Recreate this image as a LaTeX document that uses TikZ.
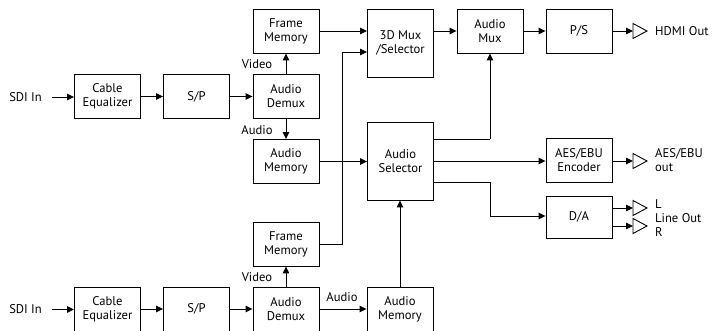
\documentclass[tikz,border=0pt]{standalone}
\usepackage{fontspec}
\setmainfont{PT Sans}
\usetikzlibrary{arrows.meta,positioning}
\begin{document}
\begin{tikzpicture}[x=1pt,y=-1pt,
  every node/.style={font=\fontsize{12.6}{14}\selectfont},
  blk/.style={draw, line width=0.9pt, minimum width=66pt, minimum height=44pt, align=center, inner sep=1pt},
  arr/.style={line width=0.9pt, -{Triangle[length=7pt,width=6.5pt]}},
  ln/.style={line width=0.9pt},
  lbl/.style={inner sep=0pt, align=left},
  buf/.style={line width=0.9pt}]
\useasboundingbox (0,0) rectangle (713,331);
% top chain
\node[lbl, anchor=east] (sdi1) at (42,97) {SDI In};
\node[blk] (ce1) at (107.5,96.5) {Cable\\Equalizer};
\node[blk] (sp1) at (196.5,96.5) {S/P};
\node[blk] (ad1) at (286,96.5) {Audio\\Demux};
\node[blk] (fm1) at (286,31) {Frame\\Memory};
\node[blk] (am1) at (286,161.5) {Audio\\Memory};
\node[blk, minimum height=68pt] (mux) at (400.5,43) {3D Mux\\/Selector};
\node[blk] (amux) at (490,31) {Audio\\Mux};
\node[blk] (ps) at (579,31) {P/S};
\node[blk, minimum height=78pt] (sel) at (400.5,161) {Audio\\Selector};
\node[blk] (aes) at (579,160) {AES/EBU\\Encoder};
\node[blk, minimum height=42pt] (da) at (579,217) {D/A};
% bottom chain
\node[blk] (fm2) at (286,244) {Frame\\Memory};
\node[lbl, anchor=east] (sdi2) at (42,309.5) {SDI In};
\node[blk] (ce2) at (107.5,309) {Cable\\Equalizer};
\node[blk] (sp2) at (196.5,309) {S/P};
\node[blk] (ad2) at (286,309) {Audio\\Demux};
\node[blk] (am2) at (400,309) {Audio\\Memory};
% labels
\node[lbl] (v1) at (257,64) {Video};
\node[lbl] (a1) at (257,130) {Audio};
\node[lbl] (v2) at (257,277) {Video};
\node[lbl] (a2) at (342,297) {Audio};
\node[lbl, anchor=west] (hdmi) at (655,31) {HDMI Out};
\node[lbl, anchor=west] (aesout) at (655,160) {AES/EBU\\out};
\node[lbl, anchor=west] (lo) at (655,218) {L\\Line Out\\R};
% buffers
\coordinate (b1) at (633,31);
\coordinate (b2) at (633,161);
\coordinate (b3) at (633,208);
\coordinate (b4) at (633,226);
\foreach \b in {b1,b2,b3,b4}{
  \draw[buf] ([yshift=-7.5]\b) -- ([yshift=7.5]\b) -- ([xshift=14]\b) -- cycle;
}
% connectors top
\draw[arr] ([xshift=10]sdi1.east) -- (ce1.west |- sdi1.east);
\draw[arr] (ce1) -- (sp1);
\draw[arr] (sp1) -- (ad1);
\draw[arr] (ad1) -- (fm1);
\draw[arr] (ad1) -- (am1);
\draw[arr] (fm1.east) -- (mux.west |- fm1.east);
\draw[arr] (am1.east) -- (sel.west |- am1.east);
\draw[arr] (mux.east |- amux.west) -- (amux.west);
\draw[arr] (amux) -- (ps);
\draw[arr] (ps.east) -- (b1);
\draw[ln] (sel.east |- 0,139) -- (490,139);
\draw[arr] (490,139) -- (amux.south);
\draw[arr] (sel.east |- 0,161) -- (aes.west |- 0,161);
\draw[arr] (aes.east |- b2) -- (b2);
\draw[ln] (sel.east |- 0,182) -- (490,182) -- (490,216);
\draw[arr] (490,216) -- (da.west |- 0,216);
\draw[arr] (da.east |- b3) -- (b3);
\draw[arr] (da.east |- b4) -- (b4);
% bottom connectors
\draw[arr] ([xshift=10]sdi2.east) -- (ce2.west |- sdi2.east);
\draw[arr] (ce2) -- (sp2);
\draw[arr] (sp2) -- (ad2);
\draw[arr] (ad2) -- (fm2);
\draw[arr] (ad2) -- (am2);
\draw[arr] (am2.north) -- (sel.south -| am2.north);
\draw[ln] (fm2.east) -- (342,244) -- (342,52);
\draw[arr] (342,52) -- (mux.west |- 0,52);
\end{tikzpicture}
\end{document}
